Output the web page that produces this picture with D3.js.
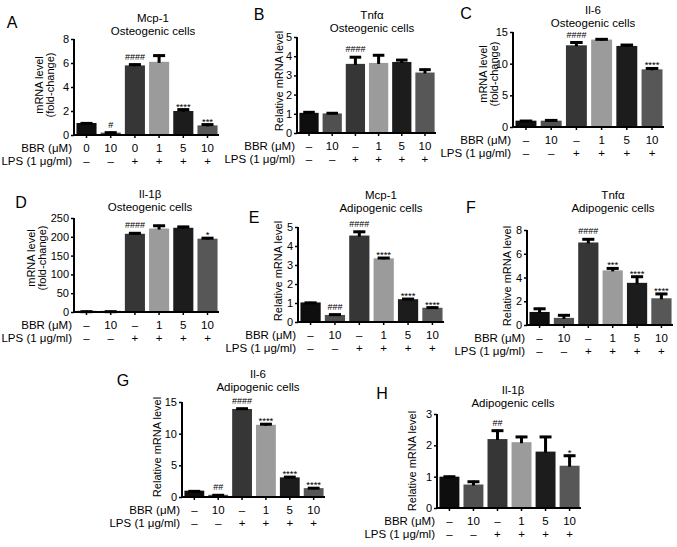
<!DOCTYPE html>
<html><head><meta charset="utf-8">
<script src="https://cdn.jsdelivr.net/npm/d3@7"></script>
<style>
body{margin:0;background:#fff}
svg{display:block}
text{font-family:"Liberation Sans",Arial,Helvetica,sans-serif;fill:#000}
</style>
</head><body>
<svg id="chart" width="677" height="547"></svg>
<script>
// ---------- data ----------
const groups = ["g1","g2","g3","g4","g5","g6"];
const bbrLabelsA = ["0","10","0","1","5","10"];
const bbrLabels = ["–","10","–","1","5","10"];
const lpsLabels = ["–","–","+","+","+","+"];
const panelLetters = ["A","B","C","D","E","F","G","H"];
const genes = ["Mcp-1","Tnfα","Il-6","Il-1β","Mcp-1","Tnfα","Il-6","Il-1β"];
const cellTypes = ["Osteogenic cells","Osteogenic cells","Osteogenic cells","Osteogenic cells",
                   "Adipogenic cells","Adipogenic cells","Adipogenic cells","Adipogenic cells"];
const yTitles = [["mRNA level","(fold-change)"],["Relative mRNA level"],["mRNA level","(fold-change)"],
                 ["mRNA level","(fold-change)"],["Relative mRNA level"],["Relative mRNA level"],
                 ["Relative mRNA level"],["Relative mRNA level"]];
const yMax = [8,5,15,250,5,8,15,3];
const yTickStep = [2,1,5,50,1,2,5,1];

const valuesA = [1.0,0.2,5.8,6.1,2.0,0.8];
const errorsA = [0.05,0.08,0.15,0.6,0.2,0.15];
const marksA  = ["","#","####","","****","***"];

const valuesB = [1.05,1.02,3.6,3.65,3.7,3.15];
const errorsB = [0.08,0.06,0.4,0.45,0.15,0.2];
const marksB  = ["","","####","","",""];

const valuesC = [1.0,1.0,12.9,13.8,12.8,9.1];
const errorsC = [0.1,0.2,0.6,0.2,0.3,0.3];
const marksC  = ["","","####","","","****"];

const valuesD = [3,3,208,222,224,195];
const errorsD = [0.5,0.5,4,10,5,4];
const marksD  = ["","","####","","","*"];

const valuesE = [1.03,0.37,4.55,3.35,1.2,0.75];
const errorsE = [0.03,0.07,0.25,0.07,0.06,0.06];
const marksE  = ["","###","####","****","****","****"];

const valuesF = [1.1,0.6,6.95,4.6,3.55,2.25];
const errorsF = [0.35,0.3,0.35,0.25,0.6,0.45];
const marksF  = ["","","####","***","****","****"];

const valuesG = [1.0,0.35,13.9,11.4,3.1,1.4];
const errorsG = [0.05,0.08,0.2,0.25,0.2,0.15];
const marksG  = ["","##","####","****","****","****"];

const valuesH = [1.0,0.75,2.2,2.1,1.8,1.35];
const errorsH = [0.03,0.12,0.3,0.2,0.5,0.35];
const marksH  = ["","","##","","","*"];

const allValues = [valuesA,valuesB,valuesC,valuesD,valuesE,valuesF,valuesG,valuesH];
const allErrors = [errorsA,errorsB,errorsC,errorsD,errorsE,errorsF,errorsG,errorsH];
const allMarks  = [marksA,marksB,marksC,marksD,marksE,marksF,marksG,marksH];

// ---------- layout & style ----------
const barColors = ["#0e0e0e","#505050","#363636","#9b9b9b","#1c1c1c","#575757"];
const layout = [
  {x0:74,  x1:219, yTop:39,  y0:135, tx:153, ty:18,  lx:12,  ly:22,  ytx:[39,50],  yty:85},
  {x0:297, x1:436, yTop:37,  y0:133, tx:372, ty:15,  lx:259, ly:14,  ytx:[279],    yty:81},
  {x0:513, x1:664, yTop:32,  y0:127, tx:593, ty:10,  lx:466, ly:13,  ytx:[483,494],yty:74},
  {x0:74,  x1:219, yTop:218, y0:312, tx:150, ty:194, lx:21,  ly:202, ytx:[31,42],  yty:258},
  {x0:298, x1:444, yTop:227, y0:322, tx:381, ty:195, lx:254, ly:217, ytx:[278],    yty:271},
  {x0:527, x1:673, yTop:230, y0:325, tx:613, ty:195, lx:471, ly:207, ytx:[507],    yty:276},
  {x0:182, x1:325, yTop:402, y0:497, tx:258, ty:374, lx:123, ly:380, ytx:[157],    yty:447},
  {x0:437, x1:581, yTop:414, y0:508, tx:513, ty:390, lx:382, ly:393, ytx:[412],    yty:461}
];

const svg = d3.select("#chart");

layout.forEach((L, i) => {
  const g = svg.append("g");
  const x = d3.scaleBand().domain(groups).range([L.x0 + 1, L.x1]).paddingInner(0.17).paddingOuter(0.06);
  const y = d3.scaleLinear().domain([0, yMax[i]]).range([L.y0, L.yTop]);
  const vals = allValues[i], errs = allErrors[i], marks = allMarks[i];

  // bars
  g.selectAll("rect.bar").data(groups).enter().append("rect")
    .attr("x", d => x(d))
    .attr("width", x.bandwidth())
    .attr("y", (d, j) => y(vals[j]))
    .attr("height", (d, j) => L.y0 - y(vals[j]))
    .attr("fill", (d, j) => barColors[j]);

  // error bars (upper)
  const capW = x.bandwidth() * 0.6;
  groups.forEach((d, j) => {
    const cx = x(d) + x.bandwidth() / 2;
    const top = y(vals[j] + errs[j]);
    g.append("line").attr("x1", cx).attr("x2", cx)
      .attr("y1", y(vals[j]) + 1).attr("y2", top)
      .attr("stroke", "#000").attr("stroke-width", 3);
    g.append("line").attr("x1", cx - capW / 2).attr("x2", cx + capW / 2)
      .attr("y1", top + 1).attr("y2", top + 1)
      .attr("stroke", "#000").attr("stroke-width", 3);
    if (marks[j]) {
      const isHash = marks[j][0] === "#";
      g.append("text").attr("x", cx).attr("y", isHash ? top - 4 : top + 1)
        .attr("text-anchor", "middle")
        .style("font-size", isHash ? "9px" : "9.5px")
        .text(marks[j]);
    }
  });

  // y axis
  const ticks = d3.range(0, yMax[i] + 0.001, yTickStep[i]);
  const yAxis = g.append("g").attr("transform", `translate(${L.x0},0)`)
    .call(d3.axisLeft(y).tickValues(ticks).tickFormat(d3.format("d"))
      .tickSize(3).tickSizeOuter(0).tickPadding(2));
  yAxis.select(".domain").attr("stroke-width", 2).attr("d", `M0,${L.y0 + 1}V${L.yTop}`);
  yAxis.selectAll(".tick line").attr("stroke-width", 1.5);
  yAxis.selectAll(".tick text").style("font-size", "11px").style("font-family", "'Liberation Sans',Arial,sans-serif");

  // x axis
  const xAxis = g.append("g").attr("transform", `translate(0,${L.y0})`)
    .call(d3.axisBottom(x).tickSize(3).tickSizeOuter(0).tickFormat(""));
  xAxis.select(".domain").attr("stroke-width", 2).attr("d", `M${L.x0},0H${L.x1}`);
  xAxis.selectAll(".tick line").attr("stroke-width", 1.5);

  // treatment rows
  const bbr = i === 0 ? bbrLabelsA : bbrLabels;
  const rowY1 = L.y0 + 17, rowY2 = L.y0 + 30;
  g.append("text").attr("x", L.x0 - 2).attr("y", rowY1).attr("text-anchor", "end")
    .style("font-size", "11.5px").text("BBR (μM)");
  g.append("text").attr("x", L.x0 - 2).attr("y", rowY2).attr("text-anchor", "end")
    .style("font-size", "11.5px").text("LPS (1 μg/ml)");
  groups.forEach((d, j) => {
    const cx = x(d) + x.bandwidth() / 2;
    g.append("text").attr("x", cx).attr("y", rowY1).attr("text-anchor", "middle")
      .style("font-size", "11.5px").text(bbr[j]);
    g.append("text").attr("x", cx).attr("y", rowY2).attr("text-anchor", "middle")
      .style("font-size", "11.5px").text(lpsLabels[j]);
  });

  // titles
  g.append("text").attr("x", L.tx).attr("y", L.ty + 4).attr("text-anchor", "middle")
    .style("font-size", "11.5px").text(genes[i]);
  g.append("text").attr("x", L.tx).attr("y", L.ty + 17).attr("text-anchor", "middle")
    .style("font-size", "11.5px").text(cellTypes[i]);

  // panel letter
  g.append("text").attr("x", L.lx).attr("y", L.ly + 6).attr("text-anchor", "middle")
    .style("font-size", "16px").text(panelLetters[i]);

  // y title
  yTitles[i].forEach((t, k) => {
    g.append("text")
      .attr("transform", `translate(${L.ytx[k] + 4},${L.yty}) rotate(-90)`)
      .attr("text-anchor", "middle")
      .style("font-size", "11px").text(t);
  });
});
</script>
</body></html>
